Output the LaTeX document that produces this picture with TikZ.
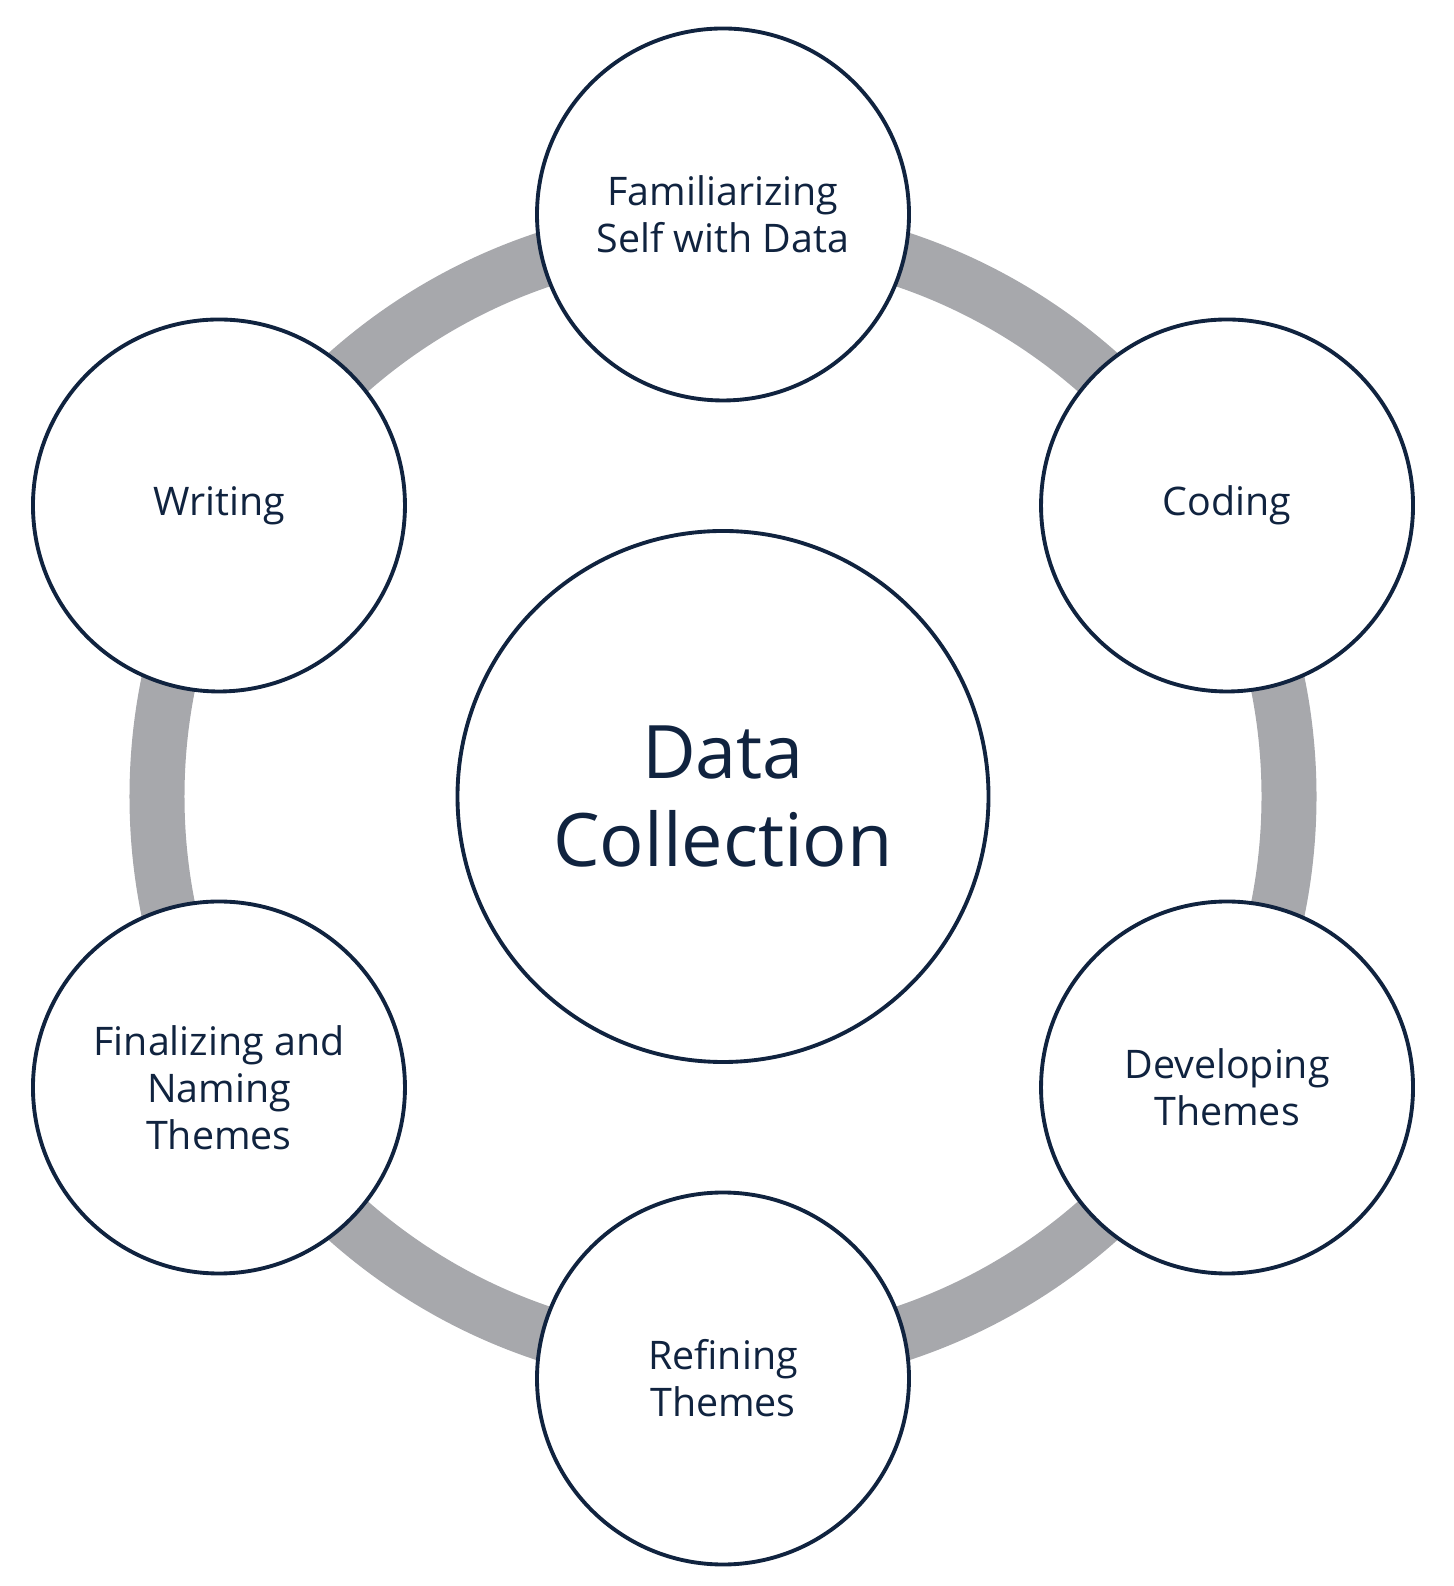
\documentclass[tikz,border=0pt]{standalone}
\usepackage{fontspec}
\setmainfont{Open Sans}
\definecolor{navy}{HTML}{10233F}
\definecolor{ringgray}{HTML}{A7A8AC}
\tikzset{
  stage/.style={circle, draw=navy, line width=1.1pt, fill=white, minimum size=3.72cm,
    inner sep=0pt, align=center, text=navy, font=\fontsize{11.2}{13.4}\selectfont},
  hub/.style={stage, minimum size=5.31cm, font=\fontsize{21}{24.8}\selectfont},
  ring/.style={draw=ringgray, line width=0.55cm}
}
\begin{document}
\begin{tikzpicture}
                \useasboundingbox (-7.23,-7.895) rectangle (7.30,7.965);
                \coordinate (O) at (0,0);
                \draw[ring] (O) circle[radius=5.66];
                \node[hub] (collect) at (O) {Data\\Collection};
                \node[stage] (familiar) at (90:5.82) {Familiarizing\\Self with Data};
                \node[stage] (coding) at (30:5.82) {Coding};
                \node[stage] (develop) at (-30:5.82) {Developing\\Themes};
                \node[stage] (refine) at (-90:5.82) {Refining\\Themes};
                \node[stage] (final) at (-150:5.82) {Finalizing and\\Naming\\Themes};
                \node[stage] (writing) at (150:5.82) {Writing};
            \end{tikzpicture}
\end{document}
